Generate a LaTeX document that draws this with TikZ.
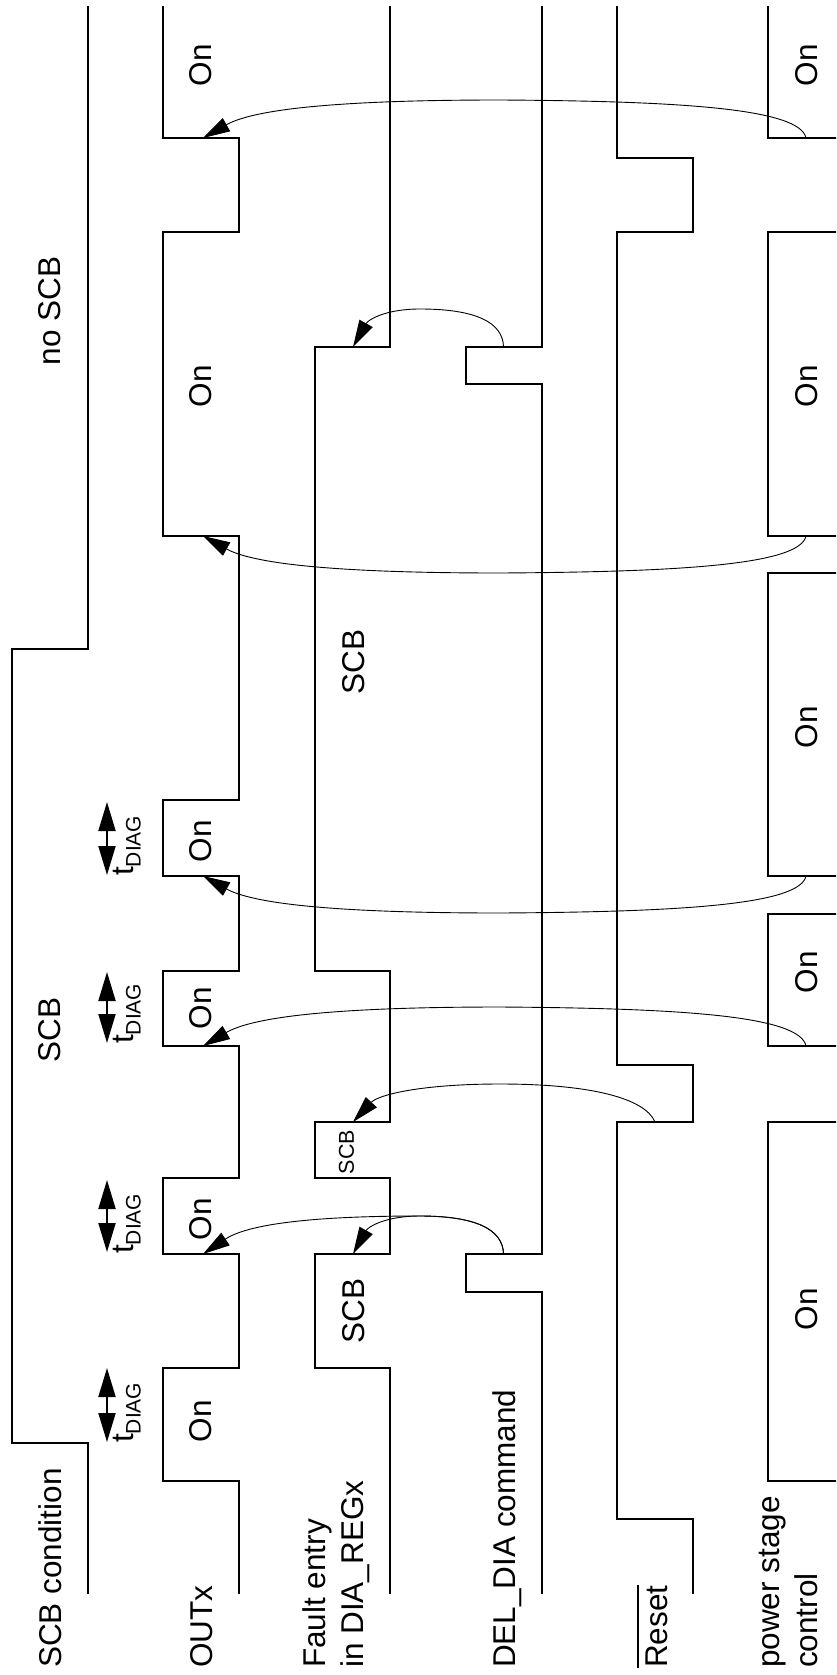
\documentclass[tikz,border=0pt]{standalone}
\usepackage{fontspec}
\setmainfont{Liberation Sans}
\usetikzlibrary{arrows.meta}
\begin{document}
\begin{tikzpicture}[x=1pt,y=-1pt,
  sig/.style={line width=1.6pt, line join=miter},
  crv/.style={line width=0.9pt, -{Triangle[length=27pt,width=15pt]}},
  tdiag/.style={line width=2pt, {Triangle[length=29pt,width=17pt]}-{Triangle[length=29pt,width=17pt]}},
  lbl/.style={font=\fontsize{31.5}{36}\selectfont, rotate=90, anchor=base west, inner sep=0pt},
  inl/.style={font=\fontsize{31.5}{36}\selectfont, rotate=90, inner sep=0pt},
  sml/.style={font=\fontsize{21.5}{24}\selectfont, rotate=90, inner sep=0pt},
  tlbl/.style={font=\fontsize{31.5}{36}\selectfont, rotate=90, anchor=base west, inner sep=0pt},
]
\useasboundingbox (0,0) rectangle (836,1675);
\clip (0,0) rectangle (836,1675);

% ---------------- signals ----------------
% SCB condition
\draw[sig] (88,1594) -- (88,1443) -- (12,1443) -- (12,649) -- (88,649) -- (88,6);
% OUTx
\draw[sig] (239,1594) -- (239,1481) -- (163,1481) -- (163,1368) -- (239,1368)
  -- (239,1254) -- (163,1254) -- (163,1178) -- (239,1178) -- (239,1046)
  -- (163,1046) -- (163,971) -- (239,971) -- (239,876) -- (163,876)
  -- (163,800) -- (239,800) -- (239,536) -- (163,536) -- (163,232)
  -- (239,232) -- (239,138) -- (163,138) -- (163,6);
% Fault entry
\draw[sig] (390,1594) -- (390,1368) -- (315,1368) -- (315,1254) -- (390,1254)
  -- (390,1178) -- (315,1178) -- (315,1122) -- (390,1122) -- (390,971)
  -- (315,971) -- (315,347) -- (390,347) -- (390,6);
% DEL_DIA command
\draw[sig] (542,1594) -- (542,1292) -- (466,1292) -- (466,1254) -- (542,1254)
  -- (542,384) -- (466,384) -- (466,347) -- (542,347) -- (542,6);
% Reset
\draw[sig] (693,1594) -- (693,1519) -- (617,1519) -- (617,1122) -- (693,1122)
  -- (693,1065) -- (617,1065) -- (617,232) -- (693,232) -- (693,158)
  -- (617,158) -- (617,6);
% power stage control
\draw[sig] (846,1594) -- (846,1481) -- (768,1481) -- (768,1122) -- (846,1122)
  -- (846,1046) -- (768,1046) -- (768,914) -- (846,914) -- (846,876)
  -- (768,876) -- (768,573) -- (846,573) -- (846,536) -- (768,536)
  -- (768,232) -- (846,232) -- (846,138) -- (768,138) -- (768,6);

% ---------------- lane labels ----------------
\node[lbl] (lscb) at (61.5,1668) {SCB condition};
\node[lbl] (lout) at (212.5,1668) {OUTx};
\node[lbl] (lfa) at (325,1668) {Fault entry};
\node[lbl] (lfb) at (363,1668) {in DIA\_REGx};
\node[lbl] (ldel) at (515,1668) {DEL\_DIA command};
\node[lbl] (lrst) at (667,1668) {Reset};
\draw[line width=1.6pt] ([xshift=-7pt]lrst.north west) -- ([xshift=-7pt]lrst.north east);
\node[lbl] (lpsa) at (779,1668) {power stage};
\node[lbl] (lpsb) at (817,1668) {control};

% ---------------- inner labels ----------------
\node[inl] (scb1) at (49.5,1030) {SCB};
\node[inl] (noscb) at (49.5,311) {no SCB};

\node[inl] (on1) at (200.5,1421) {On};
\node[inl] (on2) at (200.5,1219) {On};
\node[inl] (on3) at (200.5,1008) {On};
\node[inl] (on4) at (200.5,841) {On};
\node[inl] (on5) at (200.5,386) {On};
\node[inl] (on6) at (200.5,65) {On};

\node[inl] (fs1) at (353.5,1311) {SCB};
\node[sml] (fs2) at (346.5,1152) {SCB};
\node[inl] (fs3) at (353.5,662) {SCB};

\node[inl] (pon1) at (806.5,1309) {On};
\node[inl] (pon2) at (806.5,972) {On};
\node[inl] (pon3) at (806.5,727) {On};
\node[inl] (pon4) at (806.5,386) {On};
\node[inl] (pon5) at (806.5,65) {On};

% ---------------- t_DIAG ----------------
\coordinate (ta1) at (107,1368); \coordinate (tb1) at (107,1442);
\coordinate (ta2) at (107,1180); \coordinate (tb2) at (107,1252);
\coordinate (ta3) at (107,972);  \coordinate (tb3) at (107,1043);
\coordinate (ta4) at (107,802);  \coordinate (tb4) at (107,875);
\draw[tdiag] (ta1) -- (tb1);
\draw[tdiag] (ta2) -- (tb2);
\draw[tdiag] (ta3) -- (tb3);
\draw[tdiag] (ta4) -- (tb4);
\node[tlbl] (td1) at (133,1443) {t\raisebox{-7.5pt}{\fontsize{21}{21}\selectfont DIAG}};
\node[tlbl] (td2) at (133,1254) {t\raisebox{-7.5pt}{\fontsize{21}{21}\selectfont DIAG}};
\node[tlbl] (td3) at (133,1044) {t\raisebox{-7.5pt}{\fontsize{21}{21}\selectfont DIAG}};
\node[tlbl] (td4) at (133,876) {t\raisebox{-7.5pt}{\fontsize{21}{21}\selectfont DIAG}};

% ---------------- cause/effect arrows ----------------
\coordinate (p1) at (806,138);  \coordinate (o1) at (203,138);
\coordinate (p3) at (806,536);  \coordinate (o3) at (203,536);
\coordinate (p4) at (806,876);  \coordinate (o4) at (203,876);
\coordinate (p5) at (806,1046); \coordinate (o5) at (203,1046);
\coordinate (d2) at (503.5,347);  \coordinate (f2) at (353,347);
\coordinate (d7) at (503.5,1254); \coordinate (f7) at (353,1254); \coordinate (o7) at (203,1254);
\coordinate (r6) at (655,1122);   \coordinate (f6) at (353,1122);

\draw[crv] (p1) .. controls (800,108.4) and (680,101.1) .. (500,100)
  .. controls (320,100) and (250,111.4) .. (o1);
\draw[crv] (p3) .. controls (800,564.9) and (680,571.9) .. (500,573)
  .. controls (320,573) and (250,561.9) .. (o3);
\draw[crv] (p4) .. controls (800,904.9) and (680,911.9) .. (500,913)
  .. controls (320,913) and (250,901.9) .. (o4);
\draw[crv] (p5) .. controls (800,1015.6) and (680,1008.2) .. (500,1007)
  .. controls (320,1007) and (250,1018.7) .. (o5);
\draw[crv] (d2) .. controls (503,322) and (475,309) .. (420,309)
  .. controls (385,309) and (368,320) .. (f2);
\draw[crv] (d7) .. controls (503,1229) and (475,1216) .. (420,1216)
  .. controls (385,1216) and (368,1227) .. (f7);
\draw[crv] (d7) .. controls (503,1229) and (475,1216) .. (420,1216)
  .. controls (300,1216) and (245,1226) .. (o7);
\draw[crv] (r6) .. controls (645,1098) and (590,1084) .. (500,1084)
  .. controls (420,1084) and (378,1095) .. (f6);
\end{tikzpicture}
\end{document}
